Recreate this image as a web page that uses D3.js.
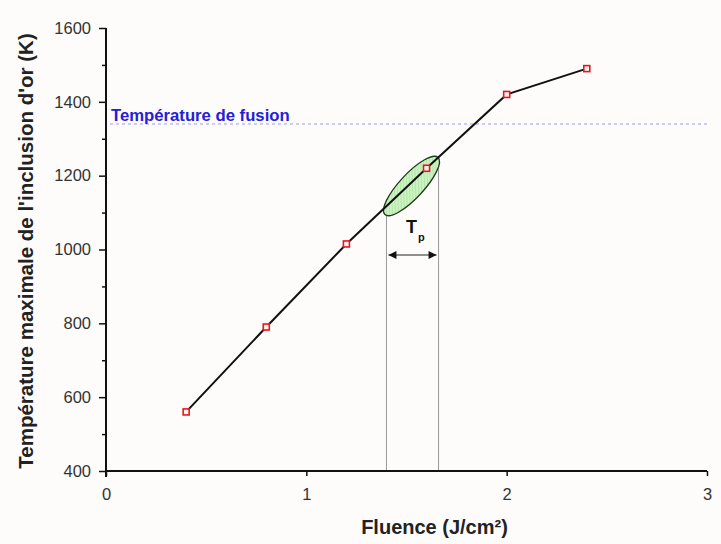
<!DOCTYPE html>
<html>
<head>
<meta charset="utf-8">
<script src="https://cdn.jsdelivr.net/npm/d3@7"></script>
<style>
  body { margin: 0; background: #fdfcfa; }
  svg { display: block; font-family: Arial, "Liberation Sans", sans-serif; }
</style>
</head>
<body>
<svg id="chart" width="721" height="544"></svg>
<script>
// Fluence (J/cm²) and peak gold inclusion temperature (K)
const fluence = [0.4, 0.8, 1.2, 1.6, 2.0, 2.4];
const temperature = [560, 790, 1015, 1220, 1420, 1490];
const xTicks = [0, 1, 2, 3];
const yTicks = [400, 600, 800, 1000, 1200, 1400, 1600];
const yMinorTicks = [500, 700, 900, 1100, 1300, 1500];
const meltingPoint = 1340;
const meltingLabel = "Température de fusion";
// Fluence window of the pulse (Tp) and the highlighted zone on the curve
const tpWindow = [1.4, 1.66];
const zoneCenter = [1.525, 1172];

const svg = d3.select("#chart");
const margin = { left: 106, right: 14, top: 28, bottom: 73 };
const W = 721, H = 544;

const x = d3.scaleLinear().domain([0, 3]).range([margin.left, W - margin.right]);
const y = d3.scaleLinear().domain([400, 1600]).range([H - margin.bottom, margin.top]);

// Melting line
svg.append("line")
  .attr("x1", x(0.02)).attr("x2", x(3))
  .attr("y1", y(meltingPoint)).attr("y2", y(meltingPoint))
  .attr("stroke", "#9a9cf0").attr("stroke-width", 1)
  .attr("stroke-dasharray", "3,3");
svg.append("text")
  .attr("x", x(0.025)).attr("y", y(meltingPoint) - 2.5)
  .attr("fill", "#2520d6").attr("font-weight", "bold").attr("font-size", 16.7)
  .text(meltingLabel);

// Tp vertical guides
const lineAt = (v) => {
  const i = d3.bisectLeft(fluence, v);
  const t = (v - fluence[i - 1]) / (fluence[i] - fluence[i - 1]);
  return temperature[i - 1] + t * (temperature[i] - temperature[i - 1]);
};
svg.append("line")
  .attr("x1", x(tpWindow[0])).attr("x2", x(tpWindow[0]))
  .attr("y1", y(400)).attr("y2", y(lineAt(tpWindow[0])) + 8)
  .attr("stroke", "#999").attr("stroke-width", 1);
svg.append("line")
  .attr("x1", x(tpWindow[1])).attr("x2", x(tpWindow[1]))
  .attr("y1", y(400)).attr("y2", y(lineAt(tpWindow[1])) + 2)
  .attr("stroke", "#999").attr("stroke-width", 1);

// Arrow markers
const defs = svg.append("defs");
["start", "end"].forEach(k => {
  defs.append("marker")
    .attr("id", "arr-" + k)
    .attr("viewBox", "0 0 10 10").attr("refX", k === "end" ? 10 : 0).attr("refY", 5)
    .attr("markerWidth", 12).attr("markerHeight", 8).attr("markerUnits", "userSpaceOnUse")
    .attr("orient", "auto")
    .append("path")
    .attr("d", k === "end" ? "M0,0 L10,5 L0,10 Z" : "M10,0 L0,5 L10,10 Z")
    .attr("fill", "#111");
});
const arrowY = 255;
svg.append("line")
  .attr("x1", x(tpWindow[0]) + 2).attr("x2", x(tpWindow[1]) - 2)
  .attr("y1", arrowY).attr("y2", arrowY)
  .attr("stroke", "#222").attr("stroke-width", 1)
  .attr("marker-start", "url(#arr-start)").attr("marker-end", "url(#arr-end)");
const tp = svg.append("text")
  .attr("x", 406).attr("y", 233)
  .attr("font-weight", "bold").attr("font-size", 18)
  .attr("fill", "#111");
tp.append("tspan").text("T");
tp.append("tspan").attr("dx", 1).attr("dy", 8).attr("font-size", 11).text("p");

// Hatched zone pattern
const pat = defs.append("pattern")
  .attr("id", "hatch").attr("width", 3).attr("height", 3)
  .attr("patternUnits", "userSpaceOnUse").attr("patternTransform", "rotate(45)");
pat.append("rect").attr("width", 3).attr("height", 3).attr("fill", "#cdf2c3");
pat.append("line").attr("x1", 0).attr("y1", 0).attr("x2", 0).attr("y2", 3)
  .attr("stroke", "#93dd8a").attr("stroke-width", 1);

svg.append("ellipse")
  .attr("cx", x(zoneCenter[0])).attr("cy", y(zoneCenter[1]))
  .attr("rx", 39).attr("ry", 12)
  .attr("transform", `rotate(-47 ${x(zoneCenter[0])} ${y(zoneCenter[1])})`)
  .attr("fill", "url(#hatch)").attr("stroke", "#1f3a1a").attr("stroke-width", 1.3);

// Data line
svg.append("path")
  .datum(fluence.map((f, i) => [f, temperature[i]]))
  .attr("fill", "none").attr("stroke", "#111").attr("stroke-width", 2)
  .attr("d", d3.line().x(d => x(d[0])).y(d => y(d[1])));

// Markers
svg.selectAll("rect.pt")
  .data(fluence.map((f, i) => [f, temperature[i]]))
  .join("rect").attr("class", "pt")
  .attr("x", d => x(d[0]) - 3).attr("y", d => y(d[1]) - 3)
  .attr("width", 6).attr("height", 6)
  .attr("fill", "#fff3f3").attr("stroke", "#e8161c").attr("stroke-width", 1.6);

// Axes
const axisColor = "#111";
const xAxis = svg.append("g").attr("transform", `translate(0,${y(400)})`)
  .call(d3.axisBottom(x).tickValues(xTicks).tickSize(5).tickPadding(12).tickFormat(d3.format("d")));
const yAxis = svg.append("g").attr("transform", `translate(${x(0)},0)`)
  .call(d3.axisLeft(y).tickValues(yTicks).tickSize(7).tickPadding(8).tickFormat(d3.format("d")));
svg.append("g").attr("transform", `translate(${x(0)},0)`)
  .call(d3.axisLeft(y).tickValues(yMinorTicks).tickSize(4).tickFormat(""))
  .call(g => g.select(".domain").remove())
  .selectAll("line").attr("stroke", axisColor).attr("stroke-width", 1.5);

[xAxis, yAxis].forEach(g => {
  g.select(".domain").attr("stroke", axisColor).attr("stroke-width", 2);
  g.selectAll(".tick line").attr("stroke", axisColor).attr("stroke-width", 1.5);
  g.selectAll(".tick text").attr("font-size", 16.5).attr("fill", "#333")
    .attr("font-family", "Arial, 'Liberation Sans', sans-serif");
});
xAxis.select(".domain").attr("d", `M${x(0)},0H${x(3)}`);
yAxis.select(".domain").attr("d", `M0,${y(1600)}V${y(400) + 6}`);

// Axis titles
svg.append("text")
  .attr("x", 434.5).attr("y", 534)
  .attr("text-anchor", "middle").attr("font-weight", "bold").attr("font-size", 20)
  .attr("fill", "#222").text("Fluence (J/cm²)");
svg.append("text")
  .attr("transform", `translate(33,251) rotate(-90)`)
  .attr("text-anchor", "middle").attr("font-weight", "bold").attr("font-size", 20.5)
  .attr("fill", "#222").text("Température maximale de l'inclusion d'or (K)");
</script>
</body>
</html>
